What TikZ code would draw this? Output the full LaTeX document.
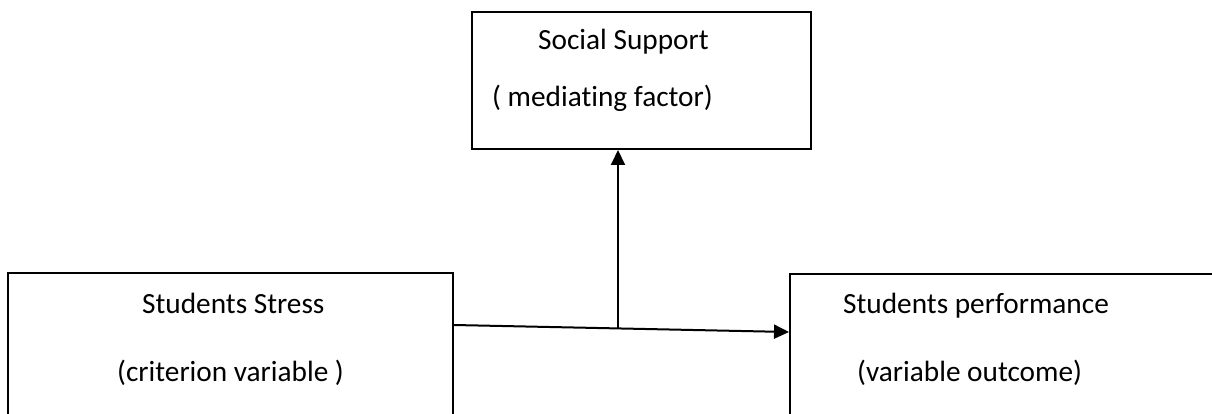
\documentclass[tikz,border=0pt]{standalone}
\usepackage{fontspec}
\setmainfont{Carlito}[RawFeature={-liga}]
\usetikzlibrary{arrows.meta,calc}
\tikzset{
  box/.style={draw=black, line width=2pt, inner sep=0pt, anchor=north west},
  lbl/.style={anchor=base west, inner sep=0pt, font=\fontsize{29.3}{34}\selectfont},
  conn/.style={draw=black, line width=2pt},
  arr/.style={conn, -{Triangle[length=15pt,width=14pt]}}
}
\begin{document}
\begin{tikzpicture}[x=1pt,y=-1pt]
\useasboundingbox (0,0) rectangle (1212,414);
\clip (0,0) rectangle (1212,414);
\node[box, minimum width=339pt, minimum height=137pt] (social) at (471,11) {};
\node[box, minimum width=445pt, minimum height=160pt] (stress) at (7,272) {};
\node[box, minimum width=460pt, minimum height=160pt] (perf) at (789,273) {};
\node[lbl] (t1) at (538,50) {Social Support};
\node[lbl] (t2) at (492,107) {( mediating factor)};
\node[lbl] (t3) at (142,313) {Students Stress};
\node[lbl] (t4) at (117,381) {(criterion variable )};
\node[lbl] (t5) at (843,313) {Students performance};
\node[lbl] (t6) at (857,381) {(variable outcome)};
\coordinate (j) at (618,328.4);
\draw[arr] ([yshift=-53pt]stress.north east) -- ([yshift=-59pt]perf.north west);
\draw[arr] (j) -- (social.south -| j);
\end{tikzpicture}
\end{document}
